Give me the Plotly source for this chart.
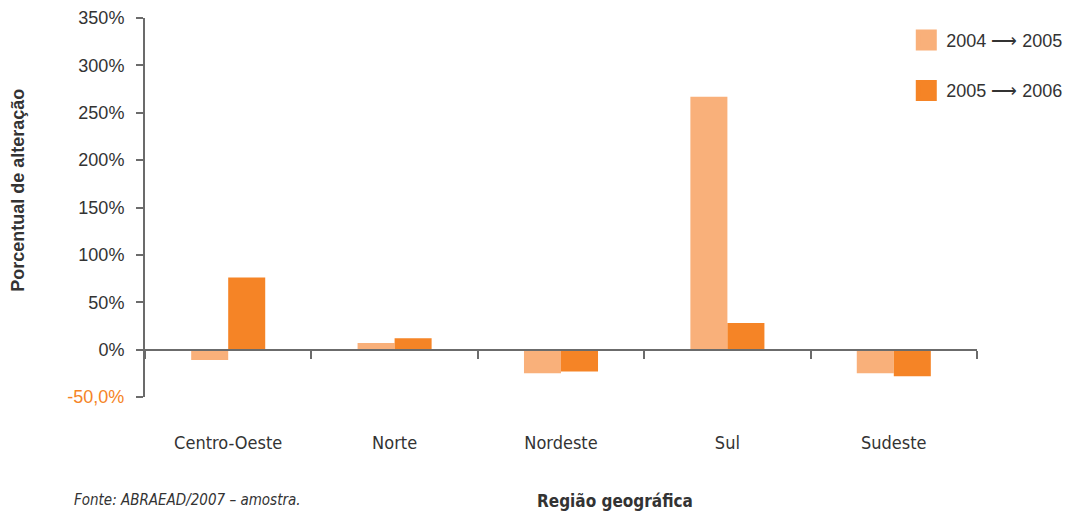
import plotly.graph_objects as go

# Regional change in percentage, two consecutive periods
regions = ["Centro-Oeste", "Norte", "Nordeste", "Sul", "Sudeste"]
change_04_05 = [-11, 7, -25, 267, -25]
change_05_06 = [76, 12, -23, 28, -28]
series_names = ["2004 \u27f6 2005", "2005 \u27f6 2006"]
y_ticks = [-50, 0, 50, 100, 150, 200, 250, 300, 350]
y_tick_labels = ["<span style='color:#F58426'>-50,0%</span>", "0%", "50%", "100%",
                 "150%", "200%", "250%", "300%", "350%"]

light = "#F9B07A"
dark = "#F58426"
axis_grey = "#6b6b6b"
text_col = "#333333"
narrow = "DejaVu Sans Condensed, Liberation Sans, sans-serif"

fig = go.Figure()
for i, (name, vals, col) in enumerate([(series_names[0], change_04_05, light),
                                       (series_names[1], change_05_06, dark)]):
    fig.add_trace(go.Bar(x=regions, y=vals, name=name, marker_color=col,
                         marker_line_width=0, showlegend=False))
    # square swatch for the legend
    fig.add_trace(go.Scatter(x=[None], y=[None], mode="markers", name=name,
                             legendgroup=f"g{i}",
                             marker=dict(symbol="square", size=16, color=col,
                                         line=dict(color=col, width=5))))

# secondary axis carrying the baseline and the category separators
fig.add_trace(go.Scatter(x=[None], y=[None], xaxis="x2", showlegend=False))

fig.update_layout(
    width=1079, height=513,
    margin=dict(l=145, r=102, t=18, b=116, autoexpand=False),
    paper_bgcolor="white", plot_bgcolor="white",
    barmode="group", bargap=0.555, bargroupgap=0,
    font=dict(family="Liberation Sans", color=text_col),
    xaxis=dict(
        type="category", range=[-0.5, 4.5], showline=False, showgrid=False,
        ticks="", ticklabelstandoff=33, zeroline=False,
        tickfont=dict(family=narrow, size=18, color=text_col),
    ),
    xaxis2=dict(
        overlaying="x", anchor="free", position=0.125, range=[-0.5, 4.5],
        tickmode="array", tickvals=[-0.5, 0.5, 1.5, 2.5, 3.5, 4.5],
        showticklabels=False, ticks="outside", ticklen=8, tickwidth=2,
        tickcolor=axis_grey, showline=True, linecolor=axis_grey, linewidth=2,
        showgrid=False, zeroline=False,
    ),
    yaxis=dict(
        range=[-50, 350], tickmode="array", tickvals=y_ticks, ticktext=y_tick_labels,
        ticks="outside", ticklen=7, tickwidth=2, tickcolor=axis_grey,
        showline=True, linecolor=axis_grey, linewidth=2, showgrid=False,
        zeroline=False, tickfont=dict(size=18, color=text_col),
        ticklabelstandoff=8,
    ),
    legend=dict(x=0.915, y=0.99, xanchor="left", yanchor="top",
                font=dict(size=18, color=text_col), tracegroupgap=24,
                itemsizing="trace", bgcolor="rgba(0,0,0,0)"),
    annotations=[
        dict(text="<b>Porcentual de alteração</b>", xref="paper", yref="paper",
             x=-0.1526, y=0.544, xanchor="center", yanchor="middle", textangle=-90,
             showarrow=False, font=dict(size=18, color=text_col)),
        dict(text="<b>Região geográfica</b>", xref="paper", yref="paper",
             x=0.565, y=-0.275, xanchor="center", yanchor="middle", showarrow=False,
             font=dict(family=narrow, size=17, color=text_col)),
        dict(text="<i>Fonte: ABRAEAD/2007 – amostra.</i>", xref="paper", yref="paper",
             x=-0.0877, y=-0.272, xanchor="left", yanchor="middle", showarrow=False,
             font=dict(family=narrow, size=15, color=text_col)),
    ],
)

fig.write_html("out.html")
